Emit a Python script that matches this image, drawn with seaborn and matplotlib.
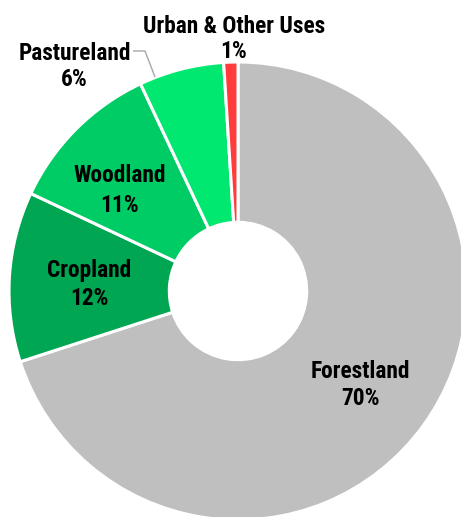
import matplotlib
matplotlib.use("Agg")
import matplotlib.pyplot as plt
import seaborn as sns

# Land use shares (percent of total area)
categories = ["Forestland", "Cropland", "Woodland", "Pastureland", "Urban & Other Uses"]
shares = [70, 12, 11, 6, 1]
colors = ["#BFBFBF", "#00A651", "#00CC66", "#00E870", "#FF3B3B"]

sns.set_theme(style="white")
plt.rcParams["font.family"] = ["Roboto Condensed", "Roboto", "Liberation Sans", "DejaVu Sans"]

W, H = 461, 517
CX, CY, R = 238.0, 291.0, 229.0   # donut centre and outer radius in pixels

fig = plt.figure(figsize=(W / 100, H / 100), dpi=100)
ax = fig.add_axes([0, 0, 1, 1])

ax.pie(
    shares,
    colors=colors,
    startangle=90,
    counterclock=False,
    radius=1.0,
    center=(0, 0),
    wedgeprops=dict(width=0.70, edgecolor="white", linewidth=2.2),
)

# fix the view so the donut sits where it should, clipped at right and bottom
ax.set_aspect("auto")
ax.set_xlim(-CX / R, (W - CX) / R)
ax.set_ylim(-(H - CY) / R, CY / R)
ax.axis("off")


def to_data(x, y):
    return (x - CX) / R, (CY - y) / R


# label anchor points (centre x, baseline of name line, baseline of percent line) in pixels
label_pos = {
    "Forestland": (360, 377.5, 405),
    "Cropland": (89, 276.5, 305),
    "Woodland": (120, 182.5, 211.5),
    "Pastureland": (74.5, 60, 86.5),
    "Urban & Other Uses": (234, 33.3, 58.3),
}

FS = 16.8
for cat, val in zip(categories, shares):
    x, y1, y2 = label_pos[cat]
    ax.text(*to_data(x, y1), cat, ha="center", va="baseline",
            fontsize=FS, fontweight="bold", color="black")
    ax.text(*to_data(x, y2), f"{val}%", ha="center", va="baseline",
            fontsize=FS, fontweight="bold", color="black")

# leader line for the small Pastureland label
lx, ly = zip(*[to_data(133, 51), to_data(145, 51), to_data(155, 77)])
ax.plot(lx, ly, color="#A6A6A6", linewidth=1.0, solid_capstyle="butt")

fig.savefig("out.png", dpi=100)
